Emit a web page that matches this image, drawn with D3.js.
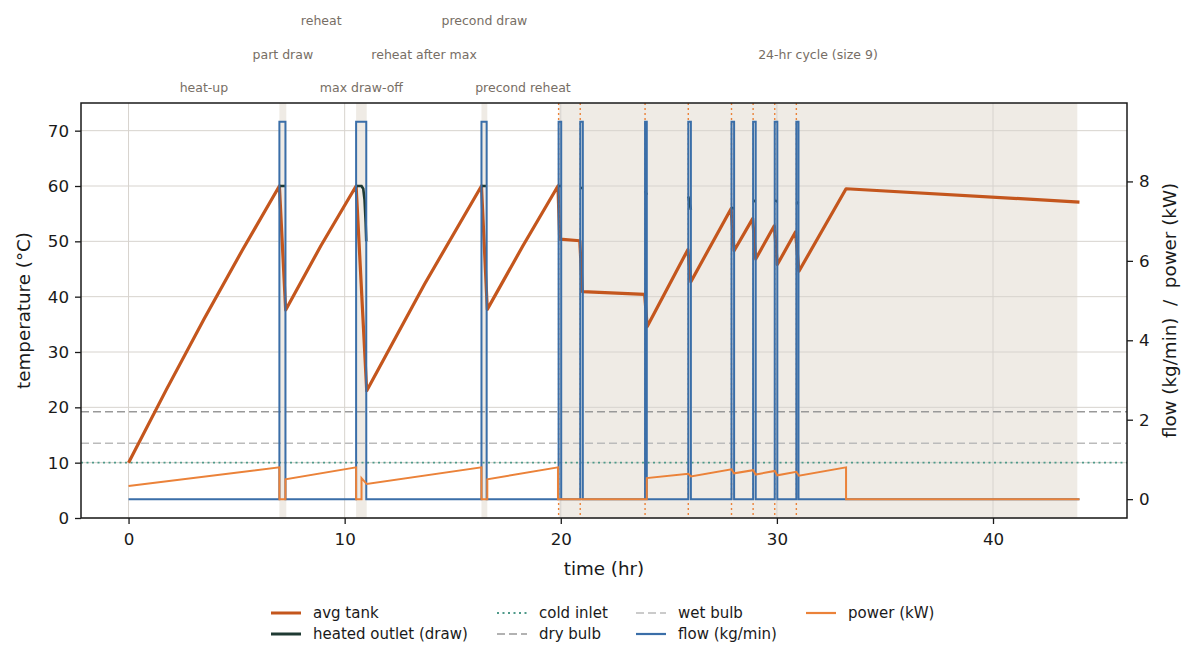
<!DOCTYPE html>
<html lang="en">
<head>
<meta charset="utf-8">
<title>Tank test sequence</title>
<script src="https://cdn.jsdelivr.net/npm/d3@7"></script>
<style>
  body { margin: 0; background: #fff; }
  svg { font-family: "DejaVu Sans", sans-serif; }
</style>
</head>
<body>
<svg id="chart" width="1195" height="664"></svg>
<script>
// test phases (hours)
var phaseNames = ["heat-up", "part draw", "reheat", "max draw-off", "reheat after max",
                  "precond draw", "precond reheat", "24-hr cycle (size 9)"];
var phaseStart = [0, 6.98, 7.3, 10.53, 11.02, 16.33, 16.6, 19.9];
var phaseEnd   = [6.98, 7.3, 10.53, 11.02, 16.33, 16.6, 19.9, 43.9];
var phaseShaded = [false, true, false, true, false, true, false, true];

// draws
var drawStart = [6.98, 10.53, 16.33, 19.9, 20.9, 23.9, 25.9, 27.9, 28.9, 29.9, 30.9];
var drawEnd   = [7.26, 11.0, 16.57, 20.02, 21.02, 23.98, 26.02, 28.02, 29.02, 30.02, 31.0];
var drawFlow  = [9.5, 9.5, 9.5, 9.5, 9.5, 9.5, 9.5, 9.5, 9.5, 9.5, 9.5];
var cycleDrawStart = [19.9, 20.9, 23.9, 25.9, 27.9, 28.9, 29.9, 30.9];

// avg tank temperature
var tankT = [0, 1.75, 3.5, 5.25, 6.98, 7.27, 8.9, 10.53, 11.02, 13.7, 16.33, 16.6, 18.25, 19.87,
             19.95, 20.88, 21.0, 23.88, 24.0, 25.88, 26.02, 27.88, 28.02, 28.88, 29.02, 29.88,
             30.02, 30.86, 31.02, 33.2, 44];
var tankV = [10, 23.2, 36, 48.3, 60, 37.6, 49.2, 60, 23, 42.3, 60, 37.7, 49.2, 60,
             50.4, 50.1, 40.9, 40.4, 34.6, 48.5, 42.7, 55.9, 48.3, 54.1, 46.8, 52.8,
             45.8, 51.7, 44.6, 59.5, 57.1];

// heated outlet during draws (null = no draw)
var outT = [6.98, 7.26, null, 10.53, 10.78, 10.86, 10.92, 10.97, 11.0, null, 16.33, 16.57, null,
            19.9, 20.02, null, 20.9, 21.02, null, 23.9, 23.98, null, 25.9, 26.02, null,
            27.9, 28.02, null, 28.9, 29.02, null, 29.9, 30.02, null, 30.9, 31.0];
var outV = [60, 60, null, 60, 60, 59.5, 57.5, 53.5, 50, null, 60, 60, null,
            60, 60, null, 59.7, 59.6, null, 59.1, 58.4, null, 58.1, 55.7, null,
            56.1, 55.9, null, 57.4, 57.2, null, 57.4, 57.2, null, 57.1, 56.8];

// heater power (kW)
var powT = [0, 6.98, 6.98, 7.26, 7.26, 10.53, 10.53, 10.78, 10.78, 11.02, 16.33, 16.33, 16.6, 16.6,
            19.87, 19.87, 23.98, 23.98, 25.9, 26.02, 27.9, 28.02, 28.9, 29.02, 29.9, 30.02,
            30.9, 31.02, 33.2, 33.2, 44];
var powV = [0.33, 0.8, 0, 0, 0.5, 0.8, 0, 0, 0.53, 0.38, 0.8, 0, 0, 0.5,
            0.8, 0, 0, 0.53, 0.64, 0.57, 0.75, 0.65, 0.73, 0.62, 0.71, 0.6,
            0.69, 0.59, 0.8, 0, 0];

var coldInlet = 10, wetBulb = 13.5, dryBulb = 19.2;
var tEnd = 44;

var xTicks = [0, 10, 20, 30, 40];
var yTicks = [0, 10, 20, 30, 40, 50, 60, 70];
var y2Ticks = [0, 2, 4, 6, 8];

var C = {
  tank: "#c4561d", outlet: "#1f3a33", cold: "#4f9a8a", wet: "#bbbbbb", dry: "#999999",
  flow: "#3a6ea8", power: "#eb8239", shade: "#efebe5", grid: "#d7d3ce", ann: "#776e65"
};

var svg = d3.select("#chart");
var L = 81, R = 1127, T = 103, B = 518;

var x = d3.scaleLinear().domain([-2.2, 46.2]).range([L, R]);
var y = d3.scaleLinear().domain([0, 75]).range([B, T]);
var y2 = d3.scaleLinear().domain([-0.475, 9.975]).range([B, T]);

// shaded spans
svg.append("g").selectAll("rect")
  .data(phaseNames.map(function(d, i){ return i; }).filter(function(i){ return phaseShaded[i]; }))
  .enter().append("rect")
  .attr("x", function(i){ return x(phaseStart[i]); })
  .attr("width", function(i){ return x(phaseEnd[i]) - x(phaseStart[i]); })
  .attr("y", T).attr("height", B - T)
  .attr("fill", C.shade);

// grid
var grid = svg.append("g").attr("stroke", C.grid).attr("stroke-width", 1);
grid.selectAll(".gx").data(xTicks).enter().append("line")
  .attr("x1", function(d){ return x(d); }).attr("x2", function(d){ return x(d); })
  .attr("y1", T).attr("y2", B);
grid.selectAll(".gy").data(yTicks).enter().append("line")
  .attr("x1", L).attr("x2", R)
  .attr("y1", function(d){ return y(d); }).attr("y2", function(d){ return y(d); });

// reference temperatures
function hline(v, color, dash, w) {
  svg.append("line").attr("x1", L).attr("x2", R).attr("y1", y(v)).attr("y2", y(v))
    .attr("stroke", color).attr("stroke-width", w).attr("stroke-dasharray", dash);
}
hline(coldInlet, C.cold, "2,3.5", 1.8);
hline(wetBulb, C.wet, "8,4", 1.6);
hline(dryBulb, C.dry, "8,4", 1.6);

// avg tank
var line = d3.line()
  .defined(function(d){ return d[0] != null && d[1] != null; })
  .x(function(d){ return x(d[0]); });

svg.append("path")
  .datum(tankT.map(function(t, i){ return [t, tankV[i]]; }))
  .attr("fill", "none").attr("stroke", C.tank).attr("stroke-width", 3.2)
  .attr("stroke-linejoin", "round")
  .attr("d", line.y(function(d){ return y(d[1]); }));

// heated outlet
svg.append("path")
  .datum(outT.map(function(t, i){ return [t, outV[i]]; }))
  .attr("fill", "none").attr("stroke", C.outlet).attr("stroke-width", 2.6)
  .attr("d", line.y(function(d){ return y(d[1]); }));

// cycle draw markers
svg.append("g").selectAll("line").data(cycleDrawStart).enter().append("line")
  .attr("x1", function(d){ return x(d); }).attr("x2", function(d){ return x(d); })
  .attr("y1", T).attr("y2", B)
  .attr("stroke", C.power).attr("stroke-width", 1.4).attr("stroke-dasharray", "2,3");

// flow (step)
var flowPts = [[0, 0]];
drawStart.forEach(function(s, i){
  flowPts.push([s, 0], [s, drawFlow[i]], [drawEnd[i], drawFlow[i]], [drawEnd[i], 0]);
});
flowPts.push([tEnd, 0]);
svg.append("path").datum(flowPts)
  .attr("fill", "none").attr("stroke", C.flow).attr("stroke-width", 2)
  .attr("d", line.y(function(d){ return y2(d[1]); }));

// power
svg.append("path")
  .datum(powT.map(function(t, i){ return [t, powV[i]]; }))
  .attr("fill", "none").attr("stroke", C.power).attr("stroke-width", 2)
  .attr("d", line.y(function(d){ return y2(d[1]); }));

// frame
svg.append("rect").attr("x", L).attr("y", T).attr("width", R - L).attr("height", B - T)
  .attr("fill", "none").attr("stroke", "#1a1a1a").attr("stroke-width", 1.5);

// axes
function styleAxis(g) {
  g.select(".domain").remove();
  g.selectAll(".tick line").attr("stroke", "#1a1a1a").attr("stroke-width", 1.3);
  g.selectAll(".tick text").attr("fill", "#1a1a1a").style("font-size", "16.7px")
    .style("font-family", "DejaVu Sans");
}
svg.append("g").attr("transform", "translate(0," + B + ")")
  .call(d3.axisBottom(x).tickValues(xTicks).tickSize(6).tickPadding(9).tickFormat(d3.format("d")))
  .call(styleAxis);
svg.append("g").attr("transform", "translate(" + L + ",0)")
  .call(d3.axisLeft(y).tickValues(yTicks).tickSize(6).tickPadding(6).tickFormat(d3.format("d")))
  .call(styleAxis);
svg.append("g").attr("transform", "translate(" + R + ",0)")
  .call(d3.axisRight(y2).tickValues(y2Ticks).tickSize(6).tickPadding(6).tickFormat(d3.format("d")))
  .call(styleAxis);

// axis labels
svg.append("text").attr("x", (L + R) / 2).attr("y", 575).attr("text-anchor", "middle")
  .style("font-size", "18.3px").attr("fill", "#1a1a1a").text("time (hr)");
svg.append("text").attr("transform", "translate(30," + (T + B) / 2 + ") rotate(-90)")
  .attr("text-anchor", "middle").style("font-size", "18.3px").attr("fill", "#1a1a1a")
  .text("temperature (°C)");
svg.append("text").attr("transform", "translate(1176," + (T + B) / 2 + ") rotate(-90)")
  .attr("text-anchor", "middle").style("font-size", "18.3px").attr("fill", "#1a1a1a")
  .attr("xml:space", "preserve").style("white-space", "pre")
  .text("flow (kg/min)  /  power (kW)");

// phase annotations, staggered in three rows
var rowY = [92, 59, 25];
svg.append("g").selectAll("text").data(phaseNames).enter().append("text")
  .attr("x", function(d, i){ return x((phaseStart[i] + phaseEnd[i]) / 2); })
  .attr("y", function(d, i){ return rowY[i % 3]; })
  .attr("text-anchor", "middle").style("font-size", "12.5px").attr("fill", C.ann)
  .text(function(d){ return d; });

// legend (column-major, 4 columns)
var legendItems = [
  {name: "avg tank", color: C.tank, w: 3, dash: null},
  {name: "heated outlet (draw)", color: C.outlet, w: 3, dash: null},
  {name: "cold inlet", color: C.cold, w: 1.8, dash: "2,3.5"},
  {name: "dry bulb", color: C.dry, w: 1.6, dash: "8,4"},
  {name: "wet bulb", color: C.wet, w: 1.6, dash: "8,4"},
  {name: "flow (kg/min)", color: C.flow, w: 2.2, dash: null},
  {name: "power (kW)", color: C.power, w: 2.2, dash: null}
];
var colX = [271, 497, 636, 806];
var legRowY = [613, 634];
var leg = svg.append("g").selectAll("g").data(legendItems).enter().append("g")
  .attr("transform", function(d, i){
    return "translate(" + colX[Math.floor(i / 2)] + "," + legRowY[i % 2] + ")";
  });
leg.append("line").attr("x1", 0).attr("x2", 30).attr("y1", 0).attr("y2", 0)
  .attr("stroke", function(d){ return d.color; })
  .attr("stroke-width", function(d){ return d.w; })
  .attr("stroke-dasharray", function(d){ return d.dash; });
leg.append("text").attr("x", 42).attr("y", 5).style("font-size", "15px").attr("fill", "#1a1a1a")
  .text(function(d){ return d.name; });
</script>
</body>
</html>
